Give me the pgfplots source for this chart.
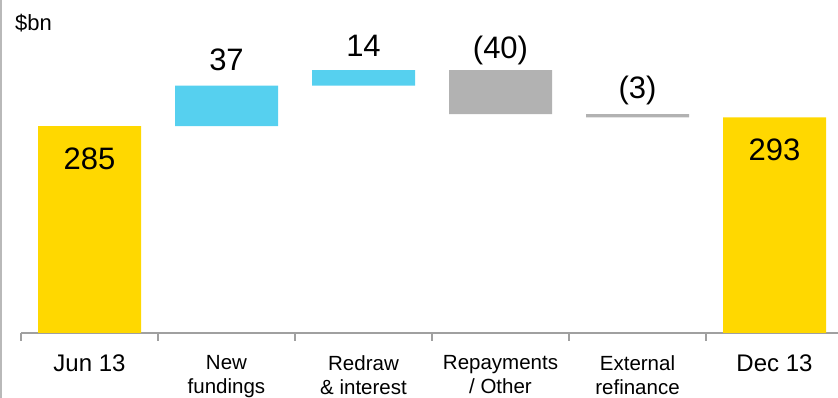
\documentclass[border=0pt]{standalone}
\usepackage{fontspec}
\setmainfont{Liberation Sans}
\usepackage{pgfplots}
\pgfplotsset{compat=1.18}
\definecolor{ltyellow}{RGB}{255,216,0}
\definecolor{ltcyan}{RGB}{86,208,239}
\definecolor{ltgray}{RGB}{178,178,178}
\definecolor{axgray}{RGB}{160,160,160}
\tikzset{vallab/.style={anchor=base, inner sep=0pt, font=\fontsize{31}{36}\selectfont}}
\begin{document}
\begin{tikzpicture}
\begin{axis}[
    at={(21pt,65pt)}, anchor=south west,
    scale only axis,
    width=822pt, height=333pt,
    xmin=-0.5, xmax=5.5,
    ymin=96.5, ymax=400,
    ybar stacked,
    bar width=103pt,
    hide y axis,
    axis x line*=bottom,
    x axis line style={axgray, line width=1.2pt},
    xtick={0,...,5},
    major tick length=0pt,
    minor xtick={-0.5,0.5,...,5.5},
    minor tick length=8pt,
    tick align=outside,
    minor tick style={axgray, line width=1.2pt},
    xticklabels={{\fontsize{24}{28}\selectfont Jun 13},New\\fundings,Redraw\\\& interest,Repayments\\/ Other,External\\refinance,{\fontsize{24}{28}\selectfont Dec 13}},
    xticklabel style={align=center, anchor=north, inner sep=0pt, yshift=-22pt,
        font=\fontsize{20.5}{24}\selectfont},
    clip=false,
]
% invisible base (axis starts at 96.5, so the end bars begin there)
\addplot[draw=none, fill=none] coordinates {(0,96.5) (1,285) (2,322) (3,296) (4,293) (5,96.5)};
\addplot[draw=none, fill=ltyellow] coordinates {(0,188.5) (1,0) (2,0) (3,0) (4,0) (5,196.5)};
\addplot[draw=none, fill=ltcyan] coordinates {(0,0) (1,37) (2,14) (3,0) (4,0) (5,0)};
\addplot[draw=none, fill=ltgray] coordinates {(0,0) (1,0) (2,0) (3,40) (4,3) (5,0)};

\coordinate (l0) at (axis cs:0,245.6);
\coordinate (l1) at (axis cs:1,336);
\coordinate (l2) at (axis cs:2,348.8);
\coordinate (l3) at (axis cs:3,346.7);
\coordinate (l4) at (axis cs:4,310.3);
\coordinate (l5) at (axis cs:5,253.4);
\coordinate (unit) at (axis cs:-0.544,371.8);
\end{axis}
\node[vallab] at (l0) {285};
\node[vallab] at (l1) {37};
\node[vallab] at (l2) {14};
\node[vallab] at (l3) {(40)};
\node[vallab] at (l4) {(3)};
\node[vallab] at (l5) {293};
\node[anchor=base west, inner sep=0pt, font=\fontsize{22}{26}\selectfont] at (unit) {\$bn};
\draw[gray!55, line width=1.5pt] (0.75pt,0pt) -- (0.75pt,398pt);
\pgfresetboundingbox
\useasboundingbox (0pt,0pt) rectangle (838pt,398pt);
\end{tikzpicture}
\end{document}
